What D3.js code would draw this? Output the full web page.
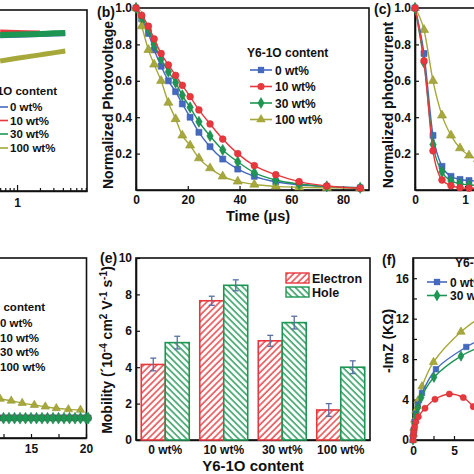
<!DOCTYPE html>
<html><head><meta charset="utf-8">
<script src="https://cdn.jsdelivr.net/npm/d3@7"></script>
<style>body{margin:0;background:#fff}svg{display:block}text{font-family:"Liberation Sans",Arial,sans-serif;font-weight:bold;fill:#111}</style>
</head><body>
<script>
// ---------- data ----------
const groups = ["0 wt%", "10 wt%", "30 wt%", "100 wt%"];
// panel (a)
const aX = [0.6, 1, 2, 3, 4.3];
const aBlue = [0.858, 0.86, 0.864, 0.867, 0.869];
const aRed = [0.878, 0.876, 0.873];
const aGreen = [0.862, 0.864, 0.868, 0.871, 0.873];
const aYellow = [0.718, 0.733, 0.752, 0.763, 0.773];
const aTicks = [0.4, 0.5, 0.6, 0.7, 0.8, 0.9, 1, 2, 3, 4, 5, 6, 7, 8];
// panel (b)
const bTime = [0, 2.2, 4.8, 7, 9.7, 12.5, 15.3, 17.9, 20.9, 24.3, 28.6, 33.5, 39.3, 45.7, 54, 63, 73.7, 86.6];
const bBlue = [1, 0.94, 0.86, 0.77, 0.68, 0.6, 0.54, 0.473, 0.4, 0.317, 0.238, 0.17, 0.115, 0.075, 0.045, 0.028, 0.018, 0.012];
const bRed = [1, 0.96, 0.9, 0.83, 0.75, 0.687, 0.63, 0.575, 0.513, 0.44, 0.363, 0.28, 0.2, 0.134, 0.084, 0.046, 0.022, 0.01];
const bGreen = [1, 0.95, 0.88, 0.8, 0.72, 0.65, 0.59, 0.52, 0.454, 0.375, 0.297, 0.22, 0.155, 0.095, 0.055, 0.033, 0.02, 0.012];
const bYellow = [1, 0.9, 0.77, 0.69, 0.6, 0.48, 0.39, 0.3, 0.245, 0.175, 0.12, 0.075, 0.047, 0.03, 0.02, 0.015, 0.012, 0.01];
const bXTicks = [0, 20, 40, 60, 80];
const yTicksNorm = [0.2, 0.4, 0.6, 0.8, 1.0];
// panel (c)
const cTime = [0, 0.18, 0.36, 0.54, 0.72, 0.9, 1.08, 1.26, 1.44];
const cBlue = [1, 0.75, 0.3, 0.13, 0.075, 0.058, 0.052, 0.05, 0.05];
const cRed = [1, 0.71, 0.215, 0.055, 0.024, 0.013, 0.01, 0.01, 0.01];
const cGreen = [1, 0.7, 0.25, 0.1, 0.05, 0.035, 0.028, 0.025, 0.025];
const cYellow = [1, 0.88, 0.6, 0.41, 0.3, 0.23, 0.19, 0.17, 0.16];
const cXTicks = [0, 1];
// panel (d)
const dXYellow = [11.1, 12.2, 13.2, 14.2, 15.3, 16.3, 17.3, 18.4, 19.5];
const dYellow = [0.228, 0.217, 0.207, 0.194, 0.183, 0.174, 0.165, 0.159, 0.156];
const dXFlat = [8, 8.5, 9, 9.5, 10, 10.5, 11, 11.5, 12, 12.5, 13, 13.5, 14, 14.5, 15, 15.5, 16, 16.5, 17, 17.5, 18, 18.5, 19, 19.5, 20, 20.2];
const dBlue = dXFlat.map(() => 0.112);
const dRed = dXFlat.map(() => 0.111);
const dGreen = dXFlat.map(() => 0.11);
const dXTicks = [12.5, 15, 17.5, 20];
// panel (e)
const eElectron = [4.15, 7.65, 5.45, 1.65];
const eElectronErr = [0.35, 0.25, 0.3, 0.35];
const eHole = [5.35, 8.5, 6.45, 4.0];
const eHoleErr = [0.35, 0.3, 0.35, 0.35];
const eYTicks = [0, 2, 4, 6, 8, 10];
// panel (f)
const fXBlue = [0, 0.05, 0.1, 0.2, 0.35, 0.6, 1.1, 2.8, 6.5, 8.5];
const fBlue = [0, 0.5, 1.0, 1.8, 2.6, 3.5, 4.65, 7.0, 9.2, 10.0];
const fXRed = [0, 0.05, 0.1, 0.2, 0.35, 0.65, 1.46, 2.68, 4.43, 6.13, 7.35, 8.5];
const fRed = [0, 0.4, 0.8, 1.3, 1.8, 2.3, 3.14, 4.03, 4.55, 4.2, 3.3, 2.0];
const fXGreen = [0, 0.05, 0.1, 0.2, 0.35, 0.6, 1.0, 2.56, 5.85, 8.5];
const fGreen = [0, 0.45, 0.9, 1.6, 2.4, 3.2, 4.2, 6.2, 8.3, 9.3];
const fXYellow = [0, 0.05, 0.1, 0.2, 0.35, 0.6, 1.1, 2.5, 5.85, 8.5];
const fYellow = [0, 0.6, 1.2, 2.0, 2.9, 3.9, 5.3, 7.7, 10.7, 12.3];
const fYTicks = [0, 2, 4, 6, 8, 10, 12, 14, 16];
const fXTicks = [0, 2.5, 5, 7.5];

// ---------- style ----------
const C = {blue: "#4469c0", red: "#e8383d", green: "#1e9653", yellow: "#a6a83a"};
const SYM = {blue: d3.symbolSquare, red: d3.symbolCircle, green: d3.symbolDiamond, yellow: d3.symbolTriangle};
const W = 474, H = 474;
const svg = d3.select("body").append("svg").attr("width", W).attr("height", H);
svg.append("rect").attr("width", W).attr("height", H).attr("fill", "#fff");

function frame(x0, y0, x1, y1) {
  svg.append("rect").attr("x", x0).attr("y", y0).attr("width", x1 - x0).attr("height", y1 - y0)
    .attr("fill", "none").attr("stroke", "#111").attr("stroke-width", 1.6);
}
function styleAxis(g, fs) {
  g.select(".domain").attr("stroke", "#111").attr("stroke-width", 1.6);
  g.selectAll(".tick line").attr("stroke", "#111").attr("stroke-width", 1.2);
  g.selectAll(".tick text").attr("font-size", fs || 12).attr("font-weight", "bold")
    .attr("font-family", '"Liberation Sans",Arial,sans-serif').attr("fill", "#111");
}
function series(xs, ys, xS, yS, key, opt) {
  opt = opt || {};
  const pts = xs.map((x, i) => [xS(x), yS(ys[i])]);
  svg.append("path").attr("d", d3.line().curve(opt.curve || d3.curveMonotoneX)(pts))
    .attr("fill", "none").attr("stroke", C[key]).attr("stroke-width", opt.sw || 1.4);
  if (opt.markers !== false) {
    const sym = d3.symbol().type(SYM[key]).size(opt.size || 36);
    svg.append("g").selectAll("path").data(pts).join("path")
      .attr("transform", d => `translate(${d[0]},${d[1]})`).attr("d", sym)
      .attr("fill", C[key]).attr("stroke", d3.color(C[key]).darker(0.3)).attr("stroke-width", 0.6);
  }
}
function text(x, y, s, fs, anchor, rot) {
  const t = svg.append("text").attr("x", x).attr("y", y).attr("font-size", fs)
    .attr("text-anchor", anchor || "start").text(s);
  if (rot) t.attr("transform", `rotate(${rot},${x},${y})`);
  return t;
}
function legendLine(x0, x1, y, key, marker) {
  svg.append("line").attr("x1", x0).attr("x2", x1).attr("y1", y).attr("y2", y)
    .attr("stroke", C[key]).attr("stroke-width", 1.6);
  if (marker) svg.append("path").attr("transform", `translate(${(x0 + x1) / 2},${y})`)
    .attr("d", d3.symbol().type(SYM[key]).size(40)).attr("fill", C[key]);
}

// ---------- panel (a) ----------
{
  const x = d3.scaleLog().domain([0.3, 8.3]).range([17 + 76 * Math.log10(0.3), 87]);
  const y = d3.scaleLinear().domain([0, 1]).range([191, 10]);
  frame(-100, 10, 87, 191);
  const ax = svg.append("g").attr("transform", "translate(0,191)")
    .call(d3.axisBottom(x).tickValues(aTicks).tickFormat(d => d === 1 ? "1" : "").tickSizeInner(-3).tickSizeOuter(0).tickPadding(7));
  styleAxis(ax);
  ax.selectAll(".tick line").filter(d => d === 1).attr("y2", -6);
  series(aX, aBlue, x, y, "blue", {markers: false, sw: 5});
  series(aX.slice(0, 3), aRed, x, y, "red", {markers: false, sw: 5});
  series(aX, aGreen, x, y, "green", {markers: false, sw: 6});
  series(aX, aYellow, x, y, "yellow", {markers: false, sw: 5});
  text(57, 95, "Y6-1O content", 11.5, "end");
  const ly = [107, 120.5, 134, 148], keys = ["blue", "red", "green", "yellow"];
  keys.forEach((k, i) => { legendLine(-14, 8, ly[i], k, false); text(10, ly[i] + 4, groups[i], 11.5); });
}

// ---------- panel (b) ----------
{
  const x = d3.scaleLinear().domain([0, 90]).range([136, 369]);
  const y = d3.scaleLinear().domain([0, 1]).range([190, 8]);
  frame(136, 8, 369, 190);
  const ax = svg.append("g").attr("transform", "translate(0,190)")
    .call(d3.axisBottom(x).tickValues(bXTicks).tickSizeInner(-4).tickSizeOuter(0).tickPadding(5));
  styleAxis(ax);
  const ay = svg.append("g").attr("transform", "translate(136,0)")
    .call(d3.axisLeft(y).tickValues(yTicksNorm).tickFormat(d3.format(".1f")).tickSizeInner(-4).tickSizeOuter(0).tickPadding(4));
  styleAxis(ay);
  series(bTime, bBlue, x, y, "blue");
  series(bTime, bYellow, x, y, "yellow");
  series(bTime, bGreen, x, y, "green");
  series(bTime, bRed, x, y, "red");
  text(97, 17, "(b)", 14);
  text(113, 105, "Normalized Photovoltage", 14, "middle", -90);
  text(258, 221, "Time (\u03bcs)", 14.5, "middle");
  text(247, 57, "Y6-1O content", 12);
  const ly = [70, 86.5, 103, 119.5], keys = ["blue", "red", "green", "yellow"];
  keys.forEach((k, i) => { legendLine(250, 272, ly[i], k, true); text(275, ly[i] + 4.5, groups[i], 12); });
}

// ---------- panel (c) ----------
{
  const x = d3.scaleLinear().domain([0, 2]).range([415, 515]);
  const y = d3.scaleLinear().domain([0, 1]).range([190, 8]);
  frame(415, 8, 600, 190);
  const ax = svg.append("g").attr("transform", "translate(0,190)")
    .call(d3.axisBottom(x).tickValues(cXTicks).tickFormat(d3.format("d")).tickSizeInner(-4).tickSizeOuter(0).tickPadding(5));
  styleAxis(ax);
  const ay = svg.append("g").attr("transform", "translate(415,0)")
    .call(d3.axisLeft(y).tickValues(yTicksNorm).tickFormat(d3.format(".1f")).tickSizeInner(-4).tickSizeOuter(0).tickPadding(4));
  styleAxis(ay);
  series(cTime, cYellow, x, y, "yellow");
  series(cTime, cBlue, x, y, "blue");
  series(cTime, cGreen, x, y, "green");
  series(cTime, cRed, x, y, "red");
  text(374, 14, "(c)", 14);
  text(393, 105, "Normalized photocurrent", 14, "middle", -90);
}

// ---------- panel (d) ----------
{
  const x = d3.scaleLinear().domain([5, 20]).range([31 - 110, 86]);
  const y = d3.scaleLinear().domain([0, 1]).range([438, 258]);
  frame(-100, 258, 86.5, 438);
  const ax = svg.append("g").attr("transform", "translate(0,438)")
    .call(d3.axisBottom(x).tickValues(dXTicks).tickFormat(d => (d % 5 === 0 ? d : "")).tickSizeInner(-4).tickSizeOuter(0).tickPadding(6));
  styleAxis(ax);
  series(dXYellow, dYellow, x, y, "yellow", {size: 30});
  series(dXFlat, dBlue, x, y, "blue", {size: 34});
  series(dXFlat, dRed, x, y, "red", {size: 32});
  series(dXFlat, dGreen, x, y, "green", {size: 40, sw: 4});
  text(45, 311, "Y6-1O content", 11.5, "end");
  const ly = [323, 337.5, 352, 366.5];
  groups.forEach((g, i) => text(0, ly[i] + 4, g, 11.5));
}

// ---------- panel (e) ----------
{
  const defs = svg.append("defs");
  const mk = (id, col, ang) => {
    const p = defs.append("pattern").attr("id", id).attr("patternUnits", "userSpaceOnUse")
      .attr("width", 4.6).attr("height", 4.6).attr("patternTransform", `rotate(${ang})`);
    p.append("rect").attr("width", 4.6).attr("height", 4.6).attr("fill", "#fff");
    p.append("line").attr("x1", 1).attr("x2", 1).attr("y1", 0).attr("y2", 4.6).attr("stroke", col).attr("stroke-width", 1.4);
  };
  mk("hatchR", C.red, 45);
  mk("hatchG", C.green, -45);
  const x0 = d3.scaleBand().domain(groups).range([136, 370]).paddingInner(0.18).paddingOuter(0.09);
  const x1 = d3.scaleBand().domain(["e", "h"]).range([0, x0.bandwidth()]);
  const y = d3.scaleLinear().domain([0, 10]).range([440, 258]);
  frame(136, 258, 370, 440);
  const ay = svg.append("g").attr("transform", "translate(136,0)")
    .call(d3.axisLeft(y).tickValues(eYTicks).tickFormat(d3.format("d")).tickSizeInner(-4).tickSizeOuter(0).tickPadding(4));
  styleAxis(ay);
  const ax = svg.append("g").attr("transform", "translate(0,440)")
    .call(d3.axisBottom(x0).tickSize(0).tickPadding(5));
  styleAxis(ax);
  const bars = (vals, errs, key, fill, sub) => {
    const gx = i => x0(groups[i]) + x1(sub);
    svg.append("g").selectAll("rect").data(vals).join("rect")
      .attr("x", (d, i) => gx(i)).attr("y", d => y(d)).attr("width", x1.bandwidth()).attr("height", d => 440 - y(d))
      .attr("fill", `url(#${fill})`).attr("stroke", C[key]).attr("stroke-width", 1.6);
    const eg = svg.append("g").attr("stroke", "#5a6fa6").attr("stroke-width", 1.3);
    vals.forEach((v, i) => {
      const cx = gx(i) + x1.bandwidth() / 2;
      eg.append("line").attr("x1", cx).attr("x2", cx).attr("y1", y(v + errs[i])).attr("y2", y(v - errs[i]));
      eg.append("line").attr("x1", cx - 3).attr("x2", cx + 3).attr("y1", y(v + errs[i])).attr("y2", y(v + errs[i]));
      eg.append("line").attr("x1", cx - 3).attr("x2", cx + 3).attr("y1", y(v - errs[i])).attr("y2", y(v - errs[i]));
    });
  };
  bars(eElectron, eElectronErr, "red", "hatchR", "e");
  bars(eHole, eHoleErr, "green", "hatchG", "h");
  text(100, 263, "(e)", 14);
  const t = text(112, 350, "", 14, "middle", -90);
  t.append("tspan").text("Mobility (\u00b410");
  t.append("tspan").attr("dy", -5).attr("font-size", 10).text("-4");
  t.append("tspan").attr("dy", 5).text(" cm");
  t.append("tspan").attr("dy", -5).attr("font-size", 10).text("2");
  t.append("tspan").attr("dy", 5).text(" V");
  t.append("tspan").attr("dy", -5).attr("font-size", 10).text("-1");
  t.append("tspan").attr("dy", 5).text(" s");
  t.append("tspan").attr("dy", -5).attr("font-size", 10).text("-1");
  t.append("tspan").attr("dy", 5).text(")");
  text(253, 471, "Y6-1O content", 15, "middle");
  svg.append("rect").attr("x", 286).attr("y", 273).attr("width", 23).attr("height", 10).attr("fill", "url(#hatchR)").attr("stroke", C.red).attr("stroke-width", 1.4);
  svg.append("rect").attr("x", 286).attr("y", 287).attr("width", 23).attr("height", 10).attr("fill", "url(#hatchG)").attr("stroke", C.green).attr("stroke-width", 1.4);
  text(312, 282.5, "Electron", 12.5);
  text(312, 296.5, "Hole", 12.5);
}

// ---------- panel (f) ----------
{
  const x = d3.scaleLinear().domain([0, 10]).range([413, 413 + 82]);
  const y = d3.scaleLinear().domain([0, 18]).range([440, 258]);
  frame(413, 258, 600, 440);
  const ax = svg.append("g").attr("transform", "translate(0,440)")
    .call(d3.axisBottom(x).tickValues(fXTicks).tickFormat(d => (d % 5 === 0 ? d : "")).tickSizeInner(-4).tickSizeOuter(0).tickPadding(6));
  styleAxis(ax);
  const ay = svg.append("g").attr("transform", "translate(413,0)")
    .call(d3.axisLeft(y).tickValues(fYTicks).tickFormat(d => (d % 4 === 0 ? d : "")).tickSizeInner(-4).tickSizeOuter(0).tickPadding(4));
  styleAxis(ay);
  const cv = d3.curveCatmullRom;
  series(fXYellow, fYellow, x, y, "yellow", {curve: cv, size: 30});
  series(fXBlue, fBlue, x, y, "blue", {curve: cv, size: 30});
  series(fXGreen, fGreen, x, y, "green", {curve: cv, size: 30});
  series(fXRed, fRed, x, y, "red", {curve: cv, size: 30});
  text(382, 265, "(f)", 14);
  text(393, 341, "-ImZ (K\u03a9)", 14, "middle", -90);
  text(455, 267, "Y6-1O content", 12);
  legendLine(427, 447, 282, "blue", true); text(450, 286.5, groups[0], 12);
  legendLine(427, 447, 295.5, "green", true); text(450, 300, groups[2], 12);
}
</script>
</body></html>
